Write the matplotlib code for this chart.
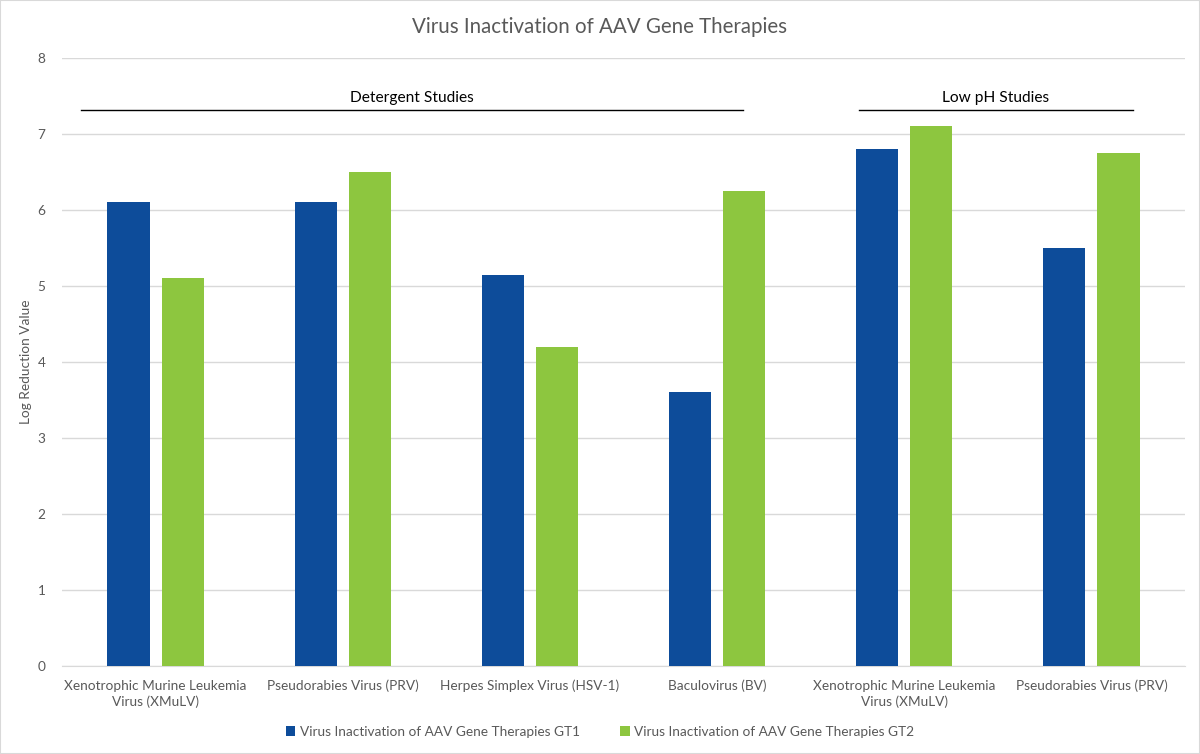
import matplotlib
matplotlib.use("Agg")
import matplotlib.pyplot as plt
import numpy as np
from matplotlib.patches import Rectangle

plt.rcParams['font.family'] = ['Lato', 'DejaVu Sans']

categories = ["Xenotrophic Murine Leukemia\nVirus (XMuLV)", "Pseudorabies Virus (PRV)",
              "Herpes Simplex Virus (HSV-1)", "Baculovirus (BV)",
              "Xenotrophic Murine Leukemia\nVirus (XMuLV)", "Pseudorabies Virus (PRV)"]
gt1 = [6.1, 6.1, 5.15, 3.6, 6.8, 5.5]
gt2 = [5.1, 6.5, 4.2, 6.25, 7.1, 6.75]
series_names = ["Virus Inactivation of AAV Gene Therapies GT1",
                "Virus Inactivation of AAV Gene Therapies GT2"]
yticks = [0, 1, 2, 3, 4, 5, 6, 7, 8]
groups = [("Detergent Studies", -0.40, 3.14), ("Low pH Studies", 3.76, 5.22)]
group_y = 7.32

blue = "#0D4C9A"
green = "#8DC63F"
grey = "#595959"

fig = plt.figure(figsize=(12, 7.54), dpi=100)
ax = fig.add_axes([62/1200, 1-666/754, 1123/1200, 608/754])

x = np.arange(len(categories))
w = 0.225
off = 0.145
b1 = ax.bar(x - off, gt1, w, color=blue, label=series_names[0], zorder=3)
b2 = ax.bar(x + off, gt2, w, color=green, label=series_names[1], zorder=3)

ax.set_xlim(-0.5, len(categories) - 0.5)
ax.set_ylim(0, 8)
ax.set_yticks(yticks)
ax.yaxis.grid(True, color="#D9D9D9", linewidth=1, zorder=0)
for s in ["top", "right", "left"]:
    ax.spines[s].set_visible(False)
ax.spines["bottom"].set_color("#D9D9D9")
ax.tick_params(axis="both", length=0, colors=grey, labelsize=9.8)
ax.tick_params(axis="y", pad=12)
ax.set_xticks(x)
ax.set_xticklabels(categories, color=grey, fontsize=9.8, linespacing=1.35)
ax.tick_params(axis="x", pad=10)
ax.set_ylabel("Log Reduction Value", color=grey, fontsize=9.8)
ax.yaxis.set_label_coords(-30/1123, 0.5)

for name, x0, x1 in groups:
    ax.plot([x0, x1], [group_y, group_y], color="black", linewidth=1, clip_on=False, zorder=4)
    ax.text((x0 + x1) / 2, group_y + 0.06, name, ha="center", va="bottom", fontsize=11.2, color="black")

fig.text(0.5, 1 - 27/754, "Virus Inactivation of AAV Gene Therapies", ha="center", va="center",
         fontsize=14.8, color=grey)

fig.legend(handles=[b1, b2], loc="center", bbox_to_anchor=(0.5, 1 - 732/754), ncol=2,
           frameon=False, fontsize=9.8, labelcolor=grey, handlelength=0.7, handleheight=0.7,
           handletextpad=0.3, columnspacing=3)

fig.patches.append(Rectangle((0, 0), 1, 1, transform=fig.transFigure, fill=False,
                             edgecolor="#D9D9D9", linewidth=1.5))

fig.savefig("out.png", dpi=100, facecolor="white")
